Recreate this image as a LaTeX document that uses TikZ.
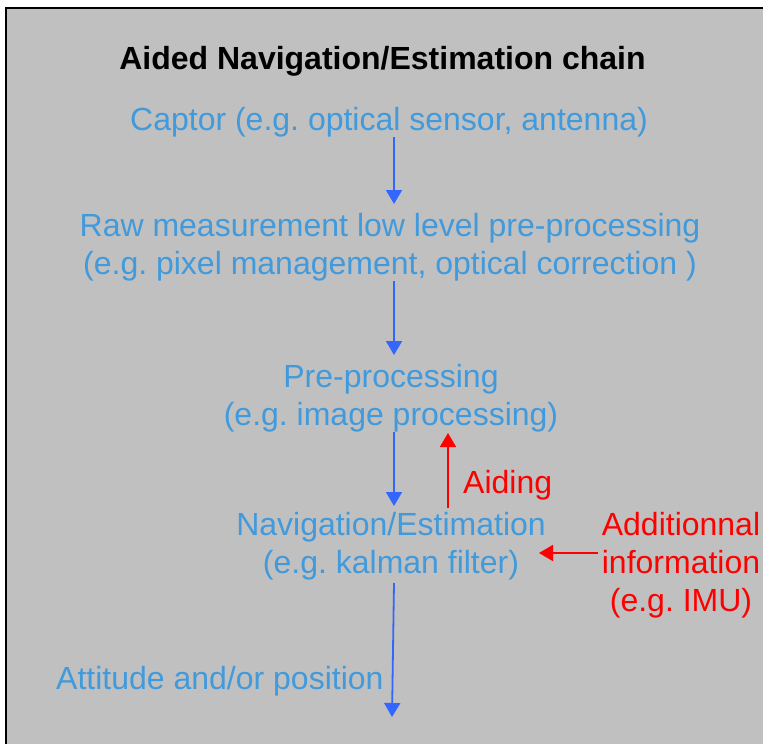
\documentclass[tikz,border=0pt]{standalone}
\usepackage{fontspec}
\setmainfont{Liberation Sans}
\usetikzlibrary{arrows.meta}
\definecolor{bgray}{RGB}{192,192,192}
\definecolor{txtblue}{RGB}{64,154,220}
\definecolor{arrblue}{RGB}{51,102,255}
\definecolor{redc}{RGB}{255,0,0}
\tikzset{
  lbl/.style={inner sep=0pt, align=center, anchor=base, font=\fontsize{32}{38}\selectfont\frenchspacing},
  bluetxt/.style={lbl, text=txtblue},
  redtxt/.style={lbl, text=redc},
  barrow/.style={draw=arrblue, line width=1.8pt, -{Triangle[length=14pt,width=16pt]}},
  rarrow/.style={draw=redc, line width=1.8pt, -{Triangle[length=14pt,width=16pt]}}
}
\begin{document}
\begin{tikzpicture}[x=1pt,y=-1pt]
\useasboundingbox (0,0) rectangle (763,744);
\fill[bgray] (6,8) rectangle (775,755);
\draw[line width=2pt] (6,755) -- (6,8) -- (775,8);
\node[lbl, font=\fontsize{32}{38}\selectfont\bfseries] (title) at (382.5,69) {Aided Navigation/Estimation chain};
\node[bluetxt] (captor) at (389,130) {Captor (e.g. optical sensor, antenna)};
\node[bluetxt] (raw) at (390,274) {Raw measurement low level pre-processing\\(e.g. pixel management, optical correction )};
\node[bluetxt] (pre) at (391,425) {Pre-processing\\(e.g. image processing)};
\node[bluetxt] (nav) at (391,573) {Navigation/Estimation\\(e.g. kalman filter)};
\node[redtxt] (add) at (681,611) {Additionnal\\information\\(e.g. IMU)};
\node[redtxt, anchor=base west] (aiding) at (463,493) {Aiding};
\node[bluetxt, anchor=base west] (att) at (56,689) {Attitude and/or position};
\coordinate (ax) at (394,0);
\coordinate (rx) at (448,0);
\coordinate (out) at (392,717);
\draw[barrow] ([yshift=-7pt]captor.base -| ax) -- ([yshift=70pt]raw.base -| ax);
\draw[barrow] ([yshift=-7pt]raw.base -| ax) -- ([yshift=70pt]pre.base -| ax);
\draw[barrow] ([yshift=-7pt]pre.base -| ax) -- ([yshift=67pt]nav.base -| ax);
\draw[rarrow] ([yshift=65pt]nav.base -| rx) -- ([yshift=-8pt]pre.base -| rx);
\draw[rarrow] ([yshift=58pt]add.base -| 598,0) -- ([yshift=20pt]nav.base -| 539,0);
\draw[barrow] ([yshift=-10pt]nav.base -| ax) -- (out);
\end{tikzpicture}
\end{document}
